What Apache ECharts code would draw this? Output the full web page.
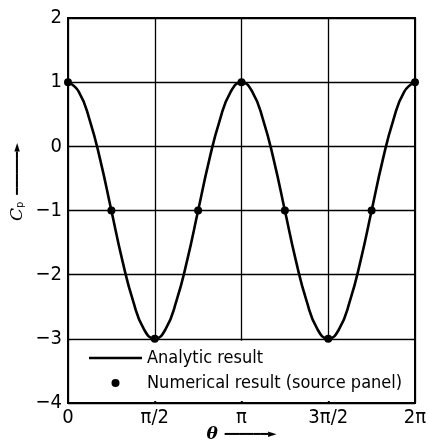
<!DOCTYPE html>
<html>
<head>
<meta charset="utf-8">
<script src="https://cdn.jsdelivr.net/npm/echarts@6/dist/echarts.min.js"></script>
<style>
  html, body { margin: 0; padding: 0; background: #fff; }
  #chart { width: 429px; height: 442px; }
</style>
</head>
<body>
<div id="chart"></div>
<script>
// theta in units of pi
const thetaLine = [
  0, 0.0625, 0.125, 0.1875, 0.25, 0.3125, 0.375, 0.4375, 0.5,
  0.5625, 0.625, 0.6875, 0.75, 0.8125, 0.875, 0.9375, 1,
  1.0625, 1.125, 1.1875, 1.25, 1.3125, 1.375, 1.4375, 1.5,
  1.5625, 1.625, 1.6875, 1.75, 1.8125, 1.875, 1.9375, 2
];
const cpAnalytic = [
  1, 0.85, 0.41, -0.23, -1, -1.77, -2.41, -2.85, -3,
  -2.85, -2.41, -1.77, -1, -0.23, 0.41, 0.85, 1,
  0.85, 0.41, -0.23, -1, -1.77, -2.41, -2.85, -3,
  -2.85, -2.41, -1.77, -1, -0.23, 0.41, 0.85, 1
];
const thetaNumerical = [0, 0.25, 0.5, 0.75, 1, 1.25, 1.5, 1.75, 2];
const cpNumerical = [1, -1, -3, -1, 1, -1, -3, -1, 1];
const xTickValues = [0, 0.5, 1, 1.5, 2];
const xTickLabels = ["0", "π/2", "π", "3π/2", "2π"];

const chart = echarts.init(document.getElementById("chart"));
const font = "DejaVu Sans Condensed";
const arrowRich = {
  a: { fontFamily: "DejaVu Sans", fontSize: 12, color: "#000" },
  h: { fontFamily: "DejaVu Sans", fontSize: 11, color: "#000" }
};

chart.setOption({
  animation: false,
  backgroundColor: "#fff",
  textStyle: { fontFamily: font, color: "#000" },
  grid: {
    left: 68, right: 14, top: 18, bottom: 39,
    outerBoundsMode: "none",
    containLabel: false,
    show: true, borderColor: "#000", borderWidth: 2
  },
  legend: {
    orient: "vertical",
    left: 84, top: 344,
    itemWidth: 53, itemHeight: 8, itemGap: 7,
    textStyle: { fontFamily: font, fontSize: 18, color: "#000" },
    data: [
      {
        name: "Analytic result",
        icon: "path://M0,0h0.01v0.01h-0.01z M0,2.7h53v2.6h-53z M52.99,7.99h0.01v0.01h-0.01z",
        itemStyle: { color: "#000" }
      },
      { name: "Numerical result (source panel)", icon: "circle" }
    ]
  },
  xAxis: {
    type: "value",
    min: 0, max: 2, interval: 0.5,
    name: "{t|θ}  {a|━━━━━━}{h|►}",
    nameLocation: "middle",
    nameGap: 23,
    nameMoveOverlap: false,
    nameTextStyle: {
      rich: Object.assign({
        t: { fontFamily: "DejaVu Serif", fontStyle: "italic", fontWeight: "bold", fontSize: 17, color: "#000" }
      }, arrowRich)
    },
    axisLine: { onZero: false, lineStyle: { color: "#000", width: 2 } },
    axisTick: { inside: true, length: 9, lineStyle: { color: "#000", width: 1.5 } },
    splitLine: { show: true, lineStyle: { color: "#000", width: 1.3 } },
    axisLabel: {
      fontSize: 20, color: "#000", margin: 5,
      formatter: (v) => xTickLabels[xTickValues.indexOf(v)] ?? ""
    }
  },
  yAxis: {
    type: "value",
    min: -4, max: 2, interval: 1,
    name: "{c|C}{p|p}  {a|━━━━━━}{h|►}",
    nameLocation: "middle",
    nameRotate: 90,
    nameGap: 42,
    nameMoveOverlap: false,
    nameTextStyle: {
      padding: [0, 0, 0, 57],
      rich: Object.assign({
        c: { fontFamily: "DejaVu Serif", fontStyle: "italic", fontSize: 17, color: "#000" },
        p: { fontSize: 11, color: "#000", verticalAlign: "bottom", padding: [6, 0, 0, 0] }
      }, arrowRich)
    },
    axisLine: { show: true, onZero: false, lineStyle: { color: "#000", width: 2 } },
    axisTick: { show: false },
    splitLine: { show: true, lineStyle: { color: "#000", width: 1.3 } },
    axisLabel: {
      fontSize: 20, color: "#000", margin: 6,
      formatter: (v) => (v < 0 ? "−" + Math.abs(v) : String(v))
    }
  },
  series: [
    {
      name: "Analytic result",
      type: "line",
      smooth: true,
      showSymbol: false,
      symbol: "none",
      lineStyle: { color: "#000", width: 2.6 },
      itemStyle: { color: "#000" },
      data: thetaLine.map((t, i) => [t, cpAnalytic[i]]),
      markArea: {
        silent: true,
        itemStyle: { color: "#fff" },
        data: [[{ yAxis: -3.97, xAxis: 0.02 }, { yAxis: -3.03, xAxis: 1.98 }]]
      },
      z: 3
    },
    {
      name: "Numerical result (source panel)",
      type: "scatter",
      symbol: "circle",
      symbolSize: 8,
      itemStyle: { color: "#000", opacity: 1 },
      data: thetaNumerical.map((t, i) => [t, cpNumerical[i]]),
      z: 4
    }
  ]
});
</script>
</body>
</html>
